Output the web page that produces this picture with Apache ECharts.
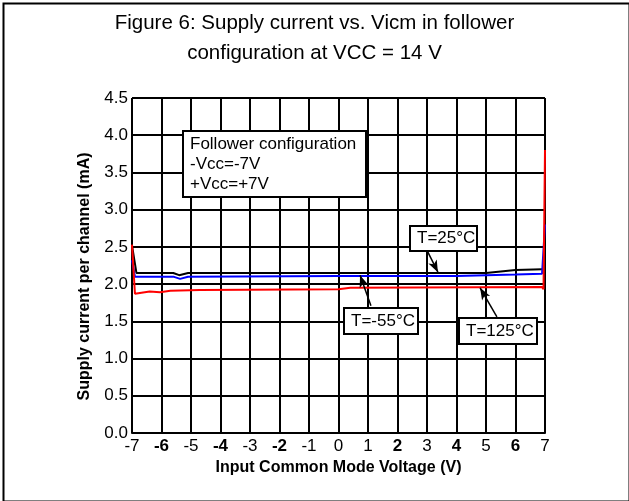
<!DOCTYPE html>
<html>
<head>
<meta charset="utf-8">
<script src="https://cdn.jsdelivr.net/npm/echarts@6/dist/echarts.min.js"></script>
<style>
  html, body { margin: 0; padding: 0; background: #fff; }
  #chart { width: 629px; height: 501px; }
</style>
</head>
<body>
<div id="chart"></div>
<script>
// x ticks from -7 to 7, y ticks 0.0 .. 4.5
const xTicks = [-7, -6, -5, -4, -3, -2, -1, 0, 1, 2, 3, 4, 5, 6, 7];
const boldTicks = [-6, -4, -2, 2, 4, 6];

// T=-55°C (black)
const tMinus55 = [[-7, 2.52], [-6.85, 2.15], [-6, 2.15], [-5.6, 2.15], [-5.4, 2.12], [-5.1, 2.15],
  [-3, 2.15], [0, 2.15], [3, 2.15], [5, 2.15], [5.5, 2.17], [6, 2.19], [6.9, 2.2]];
// T=25°C (blue)
const t25 = [[-7, 2.32], [-6.9, 2.1], [-5.6, 2.1], [-5.37, 2.07], [-5.1, 2.1], [0, 2.11],
  [4, 2.11], [5, 2.12], [6, 2.13], [6.9, 2.14], [7, 2.8]];
// T=125°C (red)
const t125 = [[-7, 2.53], [-6.9, 1.87], [-6.4, 1.9], [-6.05, 1.89], [-5.7, 1.91], [-4.7, 1.92],
  [0, 1.93], [0.4, 1.95], [6.9, 1.96], [6.95, 1.93], [7, 3.8]];

// annotation arrows [from, to] in data units
const arrows = [
  [[3.03, 2.43], [3.37, 2.16]],
  [[1.10, 1.71], [0.73, 2.12]],
  [[5.37, 1.56], [4.80, 1.95]]
];

const chart = echarts.init(document.getElementById('chart'));
const font = 'Liberation Sans, Arial, sans-serif';

function box(x, y, w, h, lines, fs, lh) {
  return {
    type: 'group', left: x, top: y,
    children: [
      { type: 'rect', shape: { x: 0, y: 0, width: w, height: h },
        style: { fill: '#fff', stroke: '#000', lineWidth: 2 }, z: 10 },
      { type: 'text', x: 7, y: (h - lines.length * lh) / 2, z: 11,
        style: { text: lines.join('\n'), font: fs + 'px ' + font, fill: '#000', lineHeight: lh } }
    ]
  };
}

chart.setOption({
  animation: false,
  backgroundColor: '#fff',
  title: {
    text: 'Figure 6: Supply current vs. Vicm in follower\nconfiguration at VCC = 14 V',
    left: 'center', top: 3,
    textStyle: { fontFamily: font, fontSize: 20.5, fontWeight: 'normal', color: '#000', lineHeight: 30 }
  },
  grid: { left: 132, right: 84, top: 98, bottom: 68 },
  xAxis: {
    type: 'value', min: -7, max: 7, interval: 1,
    name: 'Input Common Mode Voltage (V)', nameLocation: 'middle', nameGap: 25,
    nameTextStyle: { fontFamily: font, fontSize: 16, fontWeight: 'bold', color: '#000' },
    axisLine: { lineStyle: { color: '#000', width: 2 } },
    axisTick: { show: false },
    splitLine: { lineStyle: { color: '#000', width: 2 } },
    axisLabel: {
      margin: 5, color: '#000', fontFamily: font, fontSize: 17,
      formatter: v => boldTicks.includes(v) ? '{b|' + v + '}' : String(v),
      rich: { b: { fontWeight: 'bold', fontSize: 17, fontFamily: font, color: '#000' } }
    }
  },
  yAxis: {
    type: 'value', min: 0, max: 4.5, interval: 0.5,
    name: 'Supply current per channel (mA)', nameLocation: 'middle', nameGap: 39,
    nameTextStyle: { fontFamily: font, fontSize: 16, fontWeight: 'bold', color: '#000', padding: [0, 22, 0, 0] },
    axisLine: { show: true, lineStyle: { color: '#000', width: 2 } },
    axisTick: { show: false },
    splitLine: { lineStyle: { color: '#000', width: 2 } },
    axisLabel: { margin: 4, color: '#000', fontFamily: font, fontSize: 17, formatter: v => v.toFixed(1) }
  },
  series: [
    { name: 'T=-55°C', type: 'line', data: tMinus55, symbol: 'none', lineStyle: { color: '#000', width: 2 } },
    { name: 'T=25°C', type: 'line', data: t25, symbol: 'none', lineStyle: { color: '#0000ff', width: 2 } },
    { name: 'T=125°C', type: 'line', data: t125, symbol: 'none', lineStyle: { color: '#ff0000', width: 2 },
      markLine: {
        silent: true, symbol: ['none', 'arrow'], symbolSize: [7, 12], z: 12,
        label: { show: false },
        lineStyle: { color: '#000', width: 1.5, type: 'solid' },
        data: arrows.map(a => [{ coord: a[0] }, { coord: a[1] }])
      } }
  ],
  graphic: [
    { type: 'rect', left: 1, top: 1, shape: { width: 626, height: 498 },
      style: { fill: 'none', stroke: '#000', lineWidth: 2 }, z: 20 },
    box(182, 130, 183, 66, ['Follower configuration', '-Vcc=-7V', '+Vcc=+7V'], 17, 20),
    box(409, 225, 67, 25, ['T=25°C'], 17, 20),
    box(343, 307, 74, 26, ['T=-55°C'], 17, 20),
    box(458, 317, 78, 26, ['T=125°C'], 17, 20)
  ]
});
</script>
</body>
</html>
